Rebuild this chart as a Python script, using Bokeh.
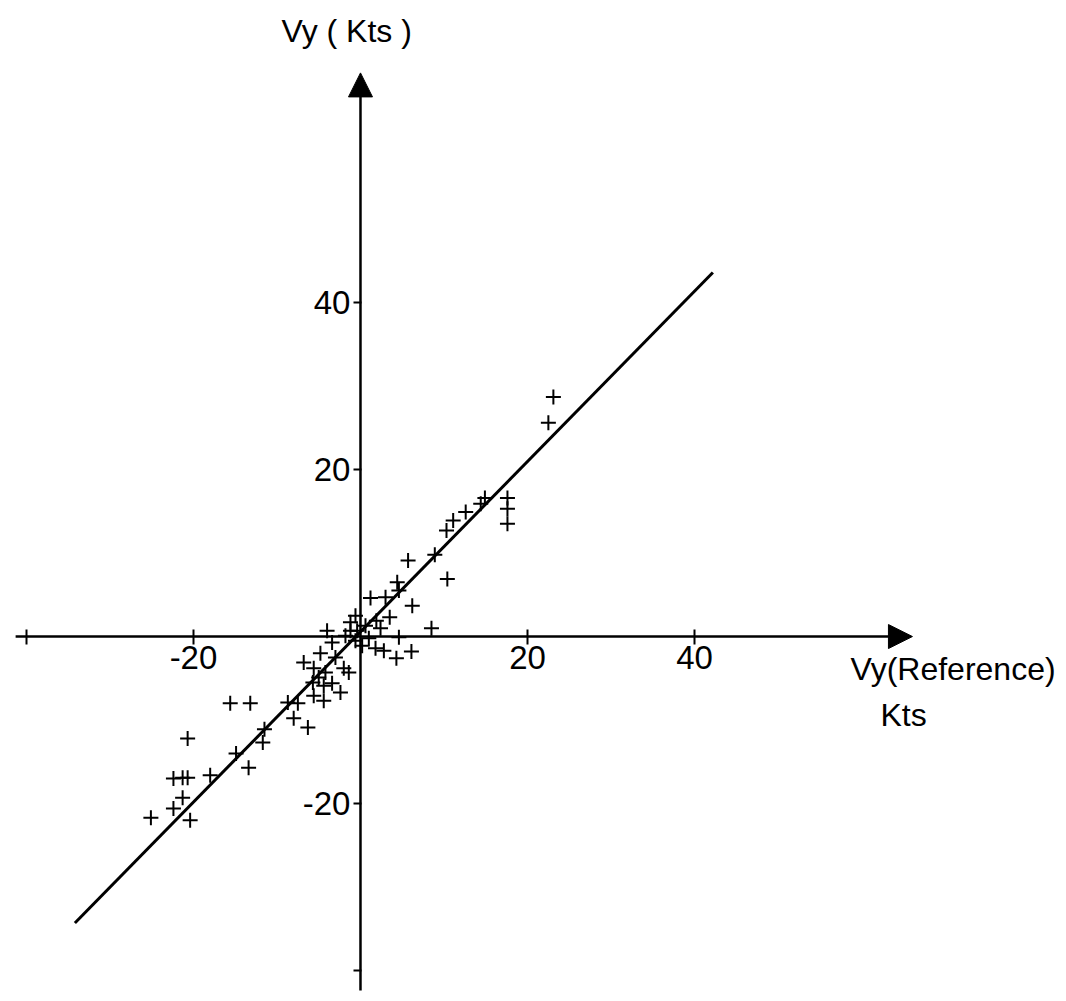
from bokeh.plotting import figure
from bokeh.models import LinearAxis, FixedTicker, Range1d, Arrow, NormalHead, Label
from bokeh.embed import file_html
from bokeh.resources import INLINE

# Data (Kts): measured Vy versus reference Vy
vy_ref = [23.1, 22.5, 17.6, 17.6, 17.6, 14.9, 14.4, 12.6, 11.1, 10.3,
          8.9, 10.4, 5.7, 4.4, 4.6, 6.2, 8.5, 1.2, 3.0, 3.5,
          1.9, 2.4, -0.6, -0.4, 4.6, 1.8, 2.8, 4.3, 6.1, 0.6,
          -1.2, 1.0, -1.8, 0.2,
          -4.0, -3.4, -1.2, -0.6, -6.8, -4.8, -5.6, -4.2, -3.0, -2.0,
          -1.4, -5.7, -5.0, -4.4, -3.4, -5.6, -4.4, -2.4, -8.7, -7.5,
          -8.0, -6.3, -11.5, -11.7, -14.9, -13.4, -15.6, -13.2, -20.7, -22.4,
          -21.3, -20.7, -18.0, -21.3, -22.4, -20.4, -25.1]
vy_meas = [28.7, 25.6, 16.6, 15.3, 13.5, 16.6, 15.9, 14.9, 13.9, 12.7,
           9.8, 6.9, 9.1, 6.5, 5.5, 3.7, 1.0, 4.6, 4.7, 2.3,
           1.9, 1.0, 2.5, 0.7, -0.1, -1.4, -1.7, -2.6, -1.8, 1.3,
           1.7, -0.2, 0.1, -1.1,
           0.7, -0.7, 0.7, -0.5, -3.1, -2.0, -3.8, -4.3, -2.5, -3.8,
           -4.3, -5.5, -4.9, -5.9, -5.6, -7.1, -7.7, -6.7, -7.9, -8.0,
           -9.8, -10.9, -11.1, -12.7, -14.0, -15.7, -8.0, -8.0, -12.2, -17.0,
           -16.9, -16.9, -16.6, -19.3, -20.6, -22.0, -21.7]

fit_x = [-34.2, 42.2]
fit_y = [-34.3, 43.6]

ticks = [-40, -20, 20, 40]
tick_labels = {-40: "", -20: "-20", 20: "20", 40: "40"}

x_axis_span = [-41.3, 66.1]
y_axis_span = [-42.4, 67.5]

W, H = 1058, 992
p = figure(width=W, height=H,
           x_range=Range1d(-43.11, 83.59), y_range=Range1d(-42.63, 76.17),
           x_axis_type=None, y_axis_type=None,
           output_backend="svg", toolbar_location=None, min_border=0)
p.outline_line_color = None
p.background_fill_color = "white"

font = "Liberation Sans"

xaxis = LinearAxis(fixed_location=0, ticker=FixedTicker(ticks=ticks),
                   major_label_overrides=tick_labels,
                   axis_line_color=None, major_tick_in=7, major_tick_out=8,
                   major_tick_line_width=2, major_tick_line_color="black",
                   minor_tick_line_color=None, major_label_standoff=1,
                   major_label_text_font=font, major_label_text_font_size="33px",
                   major_label_text_color="black")
p.add_layout(xaxis, "below")

yaxis = LinearAxis(fixed_location=0, ticker=FixedTicker(ticks=ticks),
                   major_label_overrides=tick_labels,
                   axis_line_color=None, major_tick_in=1, major_tick_out=7,
                   major_tick_line_width=2, major_tick_line_color="black",
                   minor_tick_line_color=None, major_label_standoff=3,
                   major_label_text_font=font, major_label_text_font_size="33px",
                   major_label_text_color="black")
p.add_layout(yaxis, "left")

p.add_layout(Arrow(end=NormalHead(size=24, fill_color="black", line_color="black"),
                   x_start=x_axis_span[0], y_start=0, x_end=x_axis_span[1], y_end=0,
                   line_width=2.5, line_color="black"))
p.add_layout(Arrow(end=NormalHead(size=24, fill_color="black", line_color="black"),
                   x_start=0, y_start=y_axis_span[0], x_end=0, y_end=y_axis_span[1],
                   line_width=2.5, line_color="black"))

p.line(fit_x, fit_y, line_width=3, line_color="black")
p.scatter(vy_ref, vy_meas, marker="cross", size=15, line_width=2, line_color="black")

p.add_layout(Label(x=281, y=962, x_units="screen", y_units="screen",
                   text="Vy ( Kts )", text_font=font, text_font_size="32px",
                   text_color="black", text_baseline="alphabetic"))
p.add_layout(Label(x=850, y=324, x_units="screen", y_units="screen",
                   text="Vy(Reference)", text_font=font, text_font_size="32px",
                   text_color="black", text_baseline="alphabetic"))
p.add_layout(Label(x=880, y=278, x_units="screen", y_units="screen",
                   text="Kts", text_font=font, text_font_size="32px",
                   text_color="black", text_baseline="alphabetic"))

open("out.html", "w").write(file_html(p, INLINE))
